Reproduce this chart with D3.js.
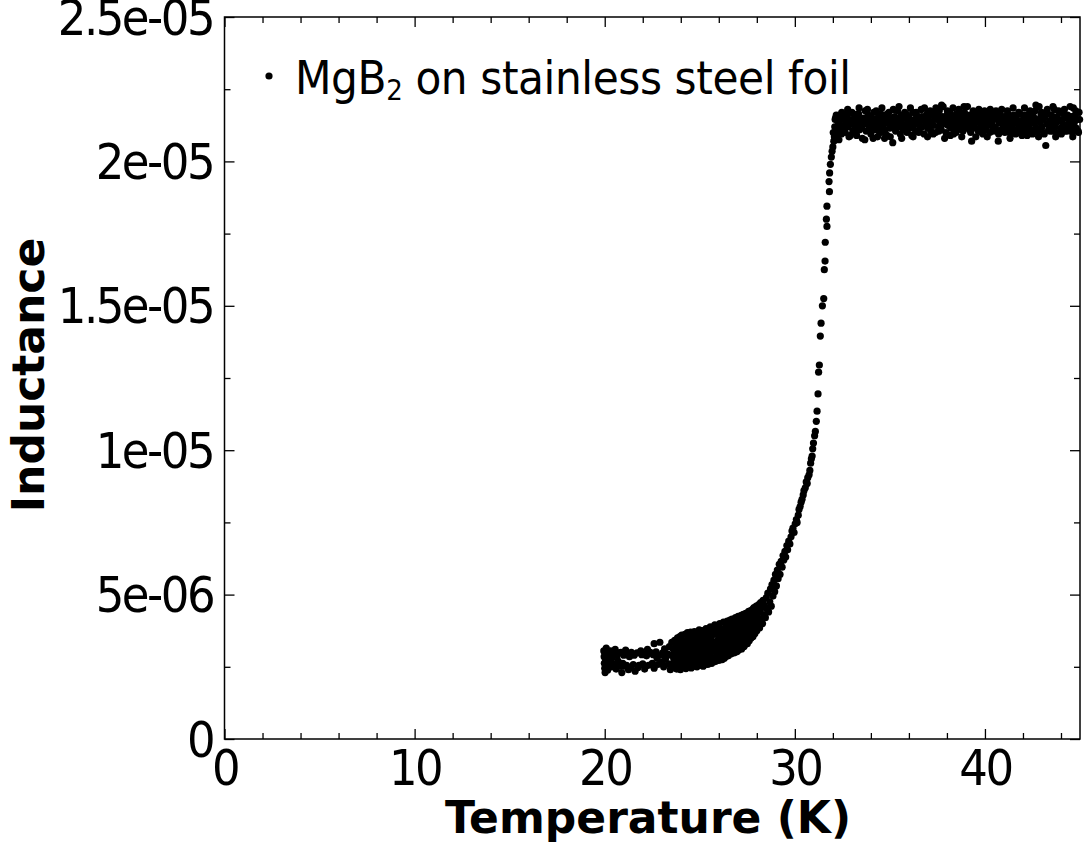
<!DOCTYPE html>
<html>
<head>
<meta charset="utf-8">
<script src="https://cdn.jsdelivr.net/npm/d3@7"></script>
<style>
  body { margin: 0; background: #fff; }
  svg { display: block; }
  .tick-label { font-family: "DejaVu Sans Condensed", "DejaVu Sans", sans-serif; font-size: 50px; letter-spacing: -2.5px; fill: #000; }
  .axis-title { font-family: "DejaVu Sans", sans-serif; font-weight: bold; font-size: 44px; fill: #000; }
  .legend-text { font-family: "DejaVu Sans Condensed", "DejaVu Sans", sans-serif; font-size: 47px; letter-spacing: -0.4px; fill: #000; }
</style>
</head>
<body>
<svg id="chart"></svg>
<script>
// temperature in K, inductance in units of 1e-6 H
const lowTemp = [
  [19.95,3.05],[19.97,2.85],[19.98,2.62],[20.0,2.45],[20.02,2.3],[20.03,2.95],[20.05,2.72],[20.08,3.15],
  [20.1,2.55],[20.15,2.38],[20.2,2.9],[20.25,2.68],[20.3,3.05],[20.35,2.5],[20.4,2.82],[20.45,2.95],
  [20.5,2.6],[20.55,3.1],[20.6,2.42],[20.65,2.88],[20.7,2.7],[20.75,2.98],[20.8,2.52],[20.85,3.0],
  [20.9,2.3],[20.95,2.62],[21.0,2.9],[21.05,2.52],[21.1,3.08],[21.15,2.55],[21.2,2.95],[21.25,2.4],
  [21.3,2.85],[21.35,2.48],[21.4,3.0],[21.5,2.58],[21.55,2.9],[21.6,2.35],[21.7,2.98],[21.75,2.48],
  [21.8,2.55],[21.9,3.05],[21.95,2.92],[22.0,2.6],[22.05,2.95],[22.1,2.42],[22.2,2.88],[22.25,3.1],
  [22.3,2.55],[22.35,2.98],[22.4,3.0],[22.5,2.62],[22.55,2.92],[22.6,2.45],[22.6,3.3],[22.7,3.02],
  [22.75,2.8],[22.8,2.58],[22.9,3.35],[22.95,2.9],[23.0,2.65],[23.05,2.98],[23.1,2.5],[23.15,3.12],
  [23.2,2.78],[23.3,2.95],[23.35,2.6],[23.4,3.2],[23.45,2.4]
];

const knee = [
  [23.48,2.45],[23.51,2.9],[23.53,3.35],[23.57,2.6],[23.6,3.12],[23.63,2.78],[23.68,3.42],[23.7,2.5],
  [23.73,2.98],[23.75,3.22],[23.78,2.42],[23.8,2.7],[23.83,3.5],[23.85,3.05],[23.88,2.55],[23.9,3.3],
  [23.93,2.85],[23.95,3.55],[23.98,2.4],[24.0,3.15],[24.02,2.68],[24.05,3.6],[24.07,2.95],[24.1,2.48],
  [24.12,3.4],[24.15,2.8],[24.17,3.2],[24.2,2.58],[24.22,3.62],[24.25,3.02],[24.27,2.44],[24.3,3.3],
  [24.32,2.72],[24.35,3.68],[24.37,2.92],[24.39,3.5],[24.4,2.5],[24.43,3.12],[24.45,2.62],[24.47,3.42],
  [24.5,2.84],[24.52,3.7],[24.55,2.46],[24.57,3.25],[24.59,3.0],[24.6,2.6],[24.63,3.55],[24.65,2.78],
  [24.68,3.35],[24.7,2.52],[24.72,3.72],[24.75,3.08],[24.77,2.9],[24.79,3.48],[24.8,2.66],[24.83,3.2],
  [24.85,2.5],[24.88,3.62],[24.9,2.95],[24.92,3.38],[24.95,2.72],[24.97,3.78],[25.0,2.55],[25.02,3.15],
  [25.05,3.55],[25.07,2.85],[25.09,3.3],[25.1,2.62],[25.13,3.75],[25.15,3.02],[25.18,2.52],[25.2,3.45],
  [25.22,2.78],[25.25,3.65],[25.27,3.2],[25.29,2.6],[25.3,2.95],[25.33,3.82],[25.35,2.68],[25.38,3.4],
  [25.4,3.1],[25.42,2.58],[25.45,3.58],[25.47,2.88],[25.49,3.78],[25.5,2.65],[25.52,3.3],[25.55,3.88],
  [25.57,3.0],[25.59,2.75],[25.6,3.5],[25.63,2.62],[25.65,3.15],[25.68,3.85],[25.7,2.82],[25.72,3.62],
  [25.75,3.35],[25.77,2.7],[25.79,3.95],[25.8,3.05],[25.82,2.68],[25.85,3.72],[25.88,3.25],[25.9,2.9],
  [25.92,3.92],[25.95,2.75],[25.97,3.45],[25.99,3.18],[26.0,2.72],[26.02,3.6],[26.05,4.0],[26.07,3.02],
  [26.09,3.35],[26.1,2.85],[26.13,3.8],[26.15,3.15],[26.18,2.75],[26.2,3.5],[26.22,2.95],[26.25,4.05],
  [26.27,3.28],[26.29,2.8],[26.3,3.68],[26.33,3.05],[26.35,2.85],[26.38,3.9],[26.4,3.4],[26.42,2.9],
  [26.45,4.08],[26.47,3.18],[26.49,3.75],[26.5,2.88],[26.52,3.55],[26.55,3.95],[26.57,3.3],[26.59,4.12],
  [26.6,3.0],[26.63,3.7],[26.65,2.95],[26.68,3.45],[26.7,4.15],[26.72,3.22],[26.75,3.85],[26.77,3.05],
  [26.79,3.6],[26.8,2.98],[26.83,4.02],[26.85,3.38],[26.88,4.2],[26.9,3.15],[26.92,3.75],[26.95,3.02],
  [26.97,3.55],[26.99,4.1],[27.0,3.3],[27.02,4.25],[27.05,3.08],[27.07,3.9],[27.09,3.6],[27.1,3.2],
  [27.13,4.05],[27.15,3.45],[27.18,4.28],[27.2,3.12],[27.22,3.75],[27.25,3.98],[27.27,3.35],[27.29,4.32],
  [27.3,3.55],[27.33,3.2],[27.35,4.15],[27.38,3.85],[27.4,3.28],[27.42,4.35],[27.45,3.68],[27.47,4.0],
  [27.49,3.4],[27.5,3.3],[27.52,4.2],[27.55,3.9],[27.57,4.42],[27.59,3.55],[27.6,3.4],[27.63,4.05],
  [27.65,3.75],[27.68,4.45],[27.7,3.5],[27.72,4.25],[27.75,3.95],[27.77,3.62],[27.79,4.5],[27.8,3.55],
  [27.83,4.15],[27.85,4.55],[27.88,3.85],[27.9,3.65],[27.92,4.35],[27.95,4.05],[27.97,4.6],[28.0,3.75],
  [28.03,4.48],[28.05,4.2],[28.08,3.95],[28.1,4.65],[28.15,3.85],[28.18,4.4],[28.2,4.72],[28.23,4.1],
  [28.27,4.55],[28.3,4.0],[28.33,4.8],[28.36,4.3],[28.4,4.62]
];

const transition = [
  [28.45,4.2],[28.5,4.9],[28.53,4.5],[28.58,5.05],[28.62,4.4],[28.68,4.75],[28.72,5.2],[28.76,4.6],
  [28.8,5.35],[28.85,4.95],[28.9,5.5],[28.94,5.1],[28.98,5.7],[29.03,5.3],[29.08,5.85],[29.12,5.55],
  [29.18,6.05],[29.22,5.7],[29.28,6.15],[29.33,5.95],[29.38,6.35],[29.42,6.2],[29.48,6.5],[29.52,6.3],
  [29.58,6.7],[29.62,6.55],[29.68,6.85],[29.74,6.75],[29.8,7.0],[29.85,7.2],[29.9,7.3],[29.96,7.15],
  [30.02,7.45],[30.08,7.6],[30.12,7.5],[30.18,7.75],[30.22,7.95],[30.28,8.05],[30.33,8.2],[30.38,8.3],
  [30.44,8.45],[30.48,8.6],[30.55,8.7],[30.6,8.9],[30.65,8.85],[30.68,9.05],[30.75,9.15],[30.79,9.3],
  [30.83,9.55],[30.87,9.7],[30.91,9.8],[30.94,10.05],[30.98,10.25],[31.04,10.5],[31.08,10.65],[31.13,11.0],
  [31.17,11.35],[31.22,11.95],[31.25,12.7],[31.29,12.95],[31.34,13.95],[31.38,14.4],[31.45,15.0],[31.52,15.25],
  [31.55,16.25],[31.59,16.55],[31.6,17.2],[31.66,18.0],[31.69,17.75],[31.69,18.45],[31.8,19.3],[31.82,18.95],
  [31.83,19.6],[31.87,19.9],[31.92,20.15],[31.96,20.35],[32.0,20.5]
];

const plateau = [
  [32.02,21.0],[32.05,20.7],[32.08,20.85],[32.1,21.2],[32.12,21.45],[32.14,21.5],[32.2,20.9],[32.25,21.4],
  [32.3,21.1],[32.35,21.6],[32.4,21.25],[32.45,20.95],[32.5,21.45],[32.55,21.15],[32.6,21.55],[32.65,21.0],
  [32.7,21.35],[32.75,21.6],[32.8,21.2],[32.85,20.85],[32.9,21.45],[32.95,21.3],[33.0,21.7],[33.05,21.05],
  [33.1,21.4],[33.15,21.2],[33.2,21.55],[33.25,20.9],[33.3,21.35],[33.35,21.65],[33.4,21.1],[33.45,21.45],
  [33.5,21.25],[33.55,20.8],[33.6,21.5],[33.65,21.3],[33.7,21.75],[33.75,21.05],[33.8,21.4],[33.85,21.6],
  [33.9,21.15],[33.95,21.35],[34.0,20.95],[34.05,21.5],[34.1,21.25],[34.15,21.7],[34.2,21.1],[34.25,21.45],
  [34.3,21.3],[34.35,20.85],[34.4,21.55],[34.45,21.2],[34.5,21.65],[34.55,21.0],[34.6,21.4],[34.65,21.25],
  [34.7,21.6],[34.75,21.1],[34.8,21.45],[34.85,20.9],[34.9,21.35],[34.95,21.7],[35.0,21.15],[35.05,21.5],
  [35.1,21.3],[35.15,20.65],[35.2,21.4],[35.25,21.55],[35.3,21.05],[35.35,21.35],[35.4,21.75],[35.45,21.2],
  [35.5,21.45],[35.55,20.95],[35.6,21.6],[35.65,21.3],[35.7,21.1],[35.75,21.5],[35.8,21.25],[35.85,21.65],
  [35.9,21.0],[35.95,21.4],[36.0,21.55],[36.05,21.15],[36.1,21.35],[36.15,20.9],[36.2,21.7],[36.25,21.25],
  [36.3,21.45],[36.35,21.05],[36.4,21.6],[36.45,21.3],[36.5,21.5],[36.55,21.1],[36.6,21.4],[36.65,21.8],
  [36.7,21.2],[36.75,21.45],[36.8,20.95],[36.85,21.55],[36.9,21.3],[36.95,21.65],[37.0,21.15],[37.05,21.4],
  [37.1,21.6],[37.15,21.05],[37.2,21.35],[37.25,21.7],[37.3,21.25],[37.35,21.5],[37.4,21.0],[37.45,21.45],
  [37.5,21.6],[37.55,21.2],[37.6,21.75],[37.65,21.35],[37.7,21.1],[37.75,21.55],[37.8,21.9],[37.85,21.3],
  [37.9,21.45],[37.95,21.0],[38.0,21.6],[38.05,21.25],[38.1,21.4],[38.15,21.7],[38.2,21.15],[38.25,21.5],
  [38.3,21.35],[38.35,20.95],[38.4,21.55],[38.45,21.25],[38.5,21.65],[38.55,21.1],[38.6,21.4],[38.65,21.3],
  [38.7,21.6],[38.75,21.2],[38.8,21.45],[38.85,21.05],[38.9,21.9],[38.95,21.35],[39.0,21.55],[39.05,21.15],
  [39.1,21.4],[39.15,21.25],[39.2,21.6],[39.25,21.0],[39.3,20.7],[39.35,21.45],[39.4,21.3],[39.45,21.65],
  [39.5,21.15],[39.55,21.4],[39.6,21.55],[39.65,21.05],[39.7,21.35],[39.75,21.6],[39.8,21.2],[39.85,21.45],
  [39.9,20.95],[39.95,21.3],[40.0,21.55],[40.05,21.1],[40.1,21.4],[40.15,21.65],[40.2,21.25],[40.25,21.0],
  [40.3,21.5],[40.35,21.3],[40.4,21.6],[40.45,21.15],[40.5,21.45],[40.55,21.2],[40.6,21.05],[40.65,21.55],
  [40.7,20.7],[40.75,21.35],[40.8,21.6],[40.85,21.1],[40.9,21.4],[40.95,21.25],[41.0,21.55],[41.05,21.0],
  [41.1,21.45],[41.15,21.3],[41.2,21.65],[41.25,21.15],[41.3,21.4],[41.35,20.95],[41.4,21.5],[41.45,21.25],
  [41.5,21.6],[41.55,21.1],[41.6,21.35],[41.65,21.55],[41.7,21.0],[41.75,21.4],[41.8,21.2],[41.85,21.65],
  [41.9,21.3],[41.95,20.9],[42.0,21.45],[42.05,21.15],[42.1,21.6],[42.15,21.35],[42.2,21.05],[42.25,21.5],
  [42.3,21.25],[42.35,21.7],[42.4,21.1],[42.45,21.4],[42.5,20.95],[42.55,21.55],[42.6,21.3],[42.65,21.75],
  [42.7,21.15],[42.75,21.45],[42.8,21.05],[42.85,21.9],[42.9,21.35],[42.95,21.6],[43.0,21.2],[43.05,21.45],
  [43.1,21.0],[43.15,21.55],[43.2,20.55],[43.25,21.3],[43.3,21.65],[43.35,21.1],[43.4,21.4],[43.45,21.25],
  [43.5,21.6],[43.55,21.05],[43.6,21.45],[43.65,21.8],[43.7,21.2],[43.75,21.35],[43.8,21.55],[43.85,21.0],
  [43.9,21.4],[43.95,21.7],[44.0,21.15],[44.05,21.45],[44.1,21.3],[44.15,21.65],[44.2,21.05],[44.25,21.5],
  [44.3,21.25],[44.35,21.6],[44.4,21.1],[44.45,21.4],[44.5,21.2],[44.55,21.55],[44.6,21.0],[44.65,21.85],
  [44.7,21.35],[44.75,21.6],[44.8,21.15],[44.85,21.45],[44.9,21.05],[44.95,21.7]
];

const plateauEdge = [
  [32.18,21.6],[32.32,20.75],[32.47,21.7],[32.62,21.1],[32.78,21.8],[32.92,20.9],[33.08,21.65],[33.22,21.0],
  [33.38,21.85],[33.52,21.15],[33.68,20.75],[33.82,21.8],[33.98,21.2],[34.12,20.8],[34.28,21.75],[34.42,21.05],
  [34.58,21.85],[34.72,20.8],[34.88,21.65],[35.02,20.85],[35.18,21.8],[35.32,21.2],[35.48,21.9],[35.62,20.8],
  [35.78,21.7],[35.92,21.1],[36.08,21.85],[36.22,20.85],[36.38,21.7],[36.52,21.0],[36.68,21.55],[36.82,21.85],
  [36.98,20.85],[37.12,21.75],[37.28,20.95],[37.42,21.85],[37.58,21.05],[37.72,21.95],[37.88,20.8],[38.02,21.75],
  [38.18,20.9],[38.32,21.85],[38.48,21.0],[38.62,21.8],[38.78,20.85],[38.92,21.7],[39.08,21.9],[39.22,21.1],
  [39.38,21.75],[39.52,20.85],[39.68,21.8],[39.82,21.0],[39.98,21.75],[40.12,20.85],[40.28,21.8],[40.42,21.05],
  [40.58,21.75],[40.72,20.95],[40.88,21.8],[41.02,21.1],[41.18,21.75],[41.32,20.8],[41.48,21.85],[41.62,20.95],
  [41.78,21.7],[41.92,21.1],[42.08,21.85],[42.22,20.9],[42.38,21.75],[42.52,21.05],[42.68,21.95],[42.82,20.85],
  [42.98,21.7],[43.12,20.95],[43.28,21.8],[43.42,21.05],[43.58,21.9],[43.72,20.85],[43.88,21.75],[44.02,20.95],
  [44.18,21.8],[44.32,21.05],[44.48,21.9],[44.62,20.85],[44.78,21.75],[44.92,21.0],[44.98,21.45]
];

const xMajor = [0, 10, 20, 30, 40];
const xMinor = [2, 4, 6, 8, 12, 14, 16, 18, 22, 24, 26, 28, 32, 34, 36, 38, 42, 44];
const yMajor = [0, 5e-6, 1e-5, 1.5e-5, 2e-5, 2.5e-5];
const yMajorLabels = ['0', '5e-06', '1e-05', '1.5e-05', '2e-05', '2.5e-05'];
const yMinor = [2.5e-6, 7.5e-6, 1.25e-5, 1.75e-5, 2.25e-5];

const width = 1085, height = 851;
const margin = { top: 17, right: 5, bottom: 112, left: 224.5 };
const innerW = width - margin.left - margin.right;
const innerH = height - margin.top - margin.bottom;

const svg = d3.select('#chart').attr('width', width).attr('height', height);
const g = svg.append('g').attr('transform', `translate(${margin.left},${margin.top})`);

const x = d3.scaleLinear().domain([0, 45]).range([0, innerW]);
const y = d3.scaleLinear().domain([0, 2.5e-5]).range([innerH, 0]);

// ticks point inward on all four sides
function styleAxis(sel) {
  sel.select('.domain').remove();
  sel.selectAll('.tick line').attr('stroke', '#000').attr('stroke-width', 1.3);
  sel.selectAll('.tick text').attr('class', 'tick-label').attr('fill', null);
}

g.append('g').attr('transform', `translate(0,${innerH})`)
  .call(d3.axisBottom(x).tickValues(xMajor).tickSize(-10).tickPadding(10.5).tickFormat(d3.format('d')))
  .call(styleAxis)
  .attr('font-size', null).attr('font-family', null);
g.append('g').attr('transform', `translate(0,${innerH})`)
  .call(d3.axisBottom(x).tickValues(xMinor).tickSize(-6).tickFormat(''))
  .call(styleAxis);
g.append('g')
  .call(d3.axisTop(x).tickValues(xMajor).tickSize(-10).tickFormat(''))
  .call(styleAxis);
g.append('g')
  .call(d3.axisTop(x).tickValues(xMinor).tickSize(-6).tickFormat(''))
  .call(styleAxis);

g.append('g')
  .call(d3.axisLeft(y).tickValues(yMajor).tickSize(-10).tickPadding(11.5)
    .tickFormat((d, i) => yMajorLabels[i]))
  .call(styleAxis)
  .attr('font-size', null).attr('font-family', null)
  .selectAll('text').attr('dy', '0.34em');
g.append('g')
  .call(d3.axisLeft(y).tickValues(yMinor).tickSize(-6).tickFormat(''))
  .call(styleAxis);
g.append('g').attr('transform', `translate(${innerW},0)`)
  .call(d3.axisRight(y).tickValues(yMajor).tickSize(-10).tickFormat(''))
  .call(styleAxis);
g.append('g').attr('transform', `translate(${innerW},0)`)
  .call(d3.axisRight(y).tickValues(yMinor).tickSize(-6).tickFormat(''))
  .call(styleAxis);

// frame
g.append('rect')
  .attr('width', innerW).attr('height', innerH)
  .attr('fill', 'none').attr('stroke', '#000').attr('stroke-width', 1.5);

// data points
const allPoints = [].concat(lowTemp, knee, transition, plateau, plateauEdge);
g.append('g').selectAll('circle')
  .data(allPoints)
  .join('circle')
  .attr('cx', d => x(d[0]))
  .attr('cy', d => y(d[1] * 1e-6))
  .attr('r', 3.6)
  .attr('fill', '#000');

// legend
const legend = g.append('g').attr('transform', 'translate(44.5,59)');
legend.append('circle').attr('cx', 0).attr('cy', 0).attr('r', 3.6).attr('fill', '#000');
const lt = legend.append('text').attr('class', 'legend-text').attr('x', 26).attr('y', 18);
lt.append('tspan').text('MgB');
lt.append('tspan').attr('font-size', '29px').attr('dy', 6).text('2');
lt.append('tspan').attr('dy', -6).text(' on stainless steel foil');

// axis titles
svg.append('text').attr('class', 'axis-title')
  .attr('x', 648).attr('y', 833).attr('text-anchor', 'middle')
  .text('Temperature (K)');
svg.append('text').attr('class', 'axis-title')
  .attr('transform', 'translate(44,375) rotate(-90)')
  .attr('text-anchor', 'middle')
  .text('Inductance');
</script>
</body>
</html>
